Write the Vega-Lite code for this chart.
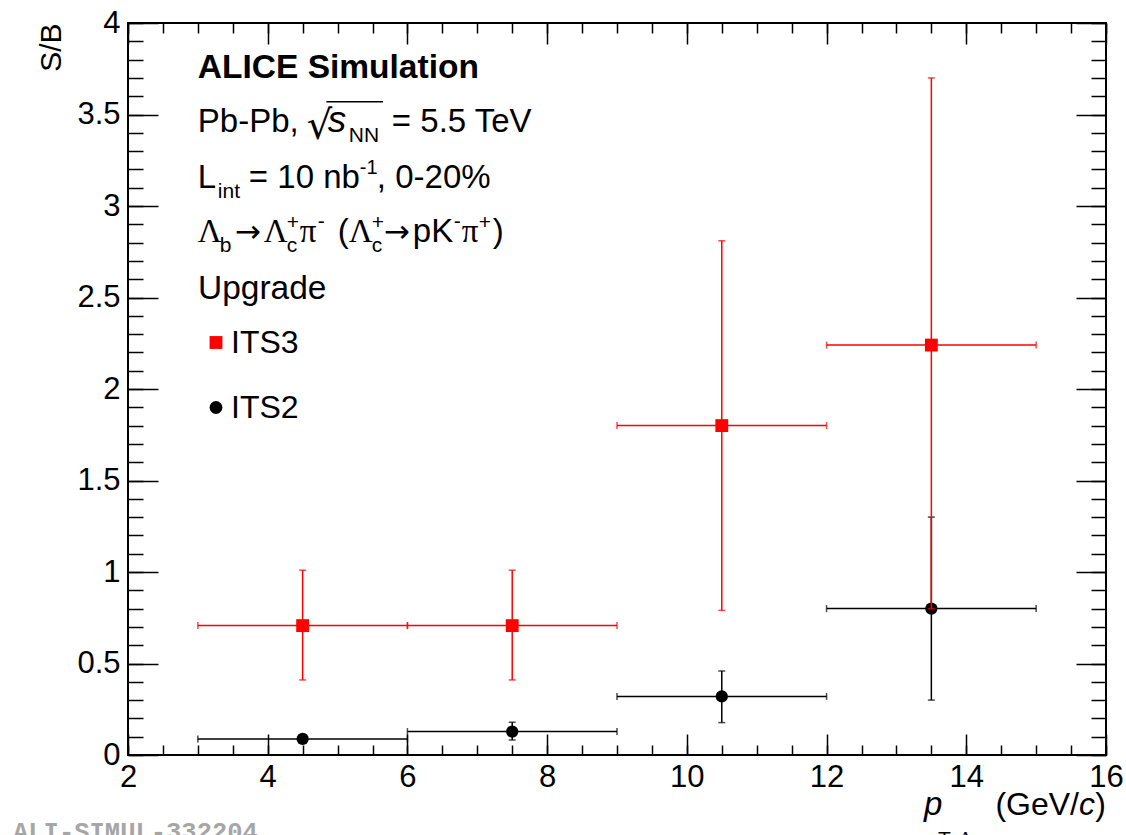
{
  "$schema": "https://vega.github.io/schema/vega-lite/v6.json",
  "width": 978,
  "height": 732,
  "autosize": {"type": "none"},
  "padding": {"left": 128, "top": 23, "right": 20, "bottom": 80},
  "background": "white",
  "datasets": {
    "its2": [
      {"series": "ITS2", "pt": 4.5, "pt_lo": 3, "pt_hi": 6, "sb": 0.088, "sb_lo": 0.075, "sb_hi": 0.1},
      {"series": "ITS2", "pt": 7.5, "pt_lo": 6, "pt_hi": 9, "sb": 0.128, "sb_lo": 0.082, "sb_hi": 0.179},
      {"series": "ITS2", "pt": 10.5, "pt_lo": 9, "pt_hi": 12, "sb": 0.32, "sb_lo": 0.177, "sb_hi": 0.459},
      {"series": "ITS2", "pt": 13.5, "pt_lo": 12, "pt_hi": 15, "sb": 0.8, "sb_lo": 0.3, "sb_hi": 1.3}
    ],
    "its3": [
      {"series": "ITS3", "pt": 4.5, "pt_lo": 3, "pt_hi": 6, "sb": 0.707, "sb_lo": 0.41, "sb_hi": 1.01},
      {"series": "ITS3", "pt": 7.5, "pt_lo": 6, "pt_hi": 9, "sb": 0.707, "sb_lo": 0.41, "sb_hi": 1.01},
      {"series": "ITS3", "pt": 10.5, "pt_lo": 9, "pt_hi": 12, "sb": 1.8, "sb_lo": 0.79, "sb_hi": 2.81},
      {"series": "ITS3", "pt": 13.5, "pt_lo": 12, "pt_hi": 15, "sb": 2.24, "sb_lo": 0.8, "sb_hi": 3.7}
    ]
  },
  "data": {"values": [{}]},
  "resolve": {"axis": {"x": "independent", "y": "independent"}},
  "layer": [
    {
      "data": {"name": "its2"},
      "mark": {"type": "rule", "color": "black", "strokeWidth": 1.5},
      "encoding": {
        "x": {"field": "pt_lo", "type": "quantitative", "scale": {"domain": [2, 16], "nice": false, "zero": false},
          "axis": {"orient": "bottom", "values": [2, 4, 6, 8, 10, 12, 14, 16], "tickSize": -21, "labelPadding": 28, "labelFont": "Liberation Sans", "labelFontSize": 31, "format": "~g", "labelFlush": false, "labelOverlap": false, "title": null}},
        "x2": {"field": "pt_hi"},
        "y": {"field": "sb", "type": "quantitative", "scale": {"domain": [0, 4], "nice": false, "zero": false},
          "axis": {"orient": "left", "values": [0, 0.5, 1, 1.5, 2, 2.5, 3, 3.5, 4], "tickSize": -30, "labelPadding": 38, "labelFont": "Liberation Sans", "labelFontSize": 31, "format": "~g", "labelFlush": false, "labelOverlap": false,
            "title": "S/B", "titleFont": "Liberation Sans", "titleFontSize": 30, "titleFontWeight": "normal", "titleColor": "black", "titleAngle": -90, "titleAlign": "right", "titleBaseline": "middle", "titleX": -77, "titleY": 0}}
      }
    },
    {
      "data": {"name": "its2"},
      "mark": {"type": "rule", "color": "black", "strokeWidth": 1.5},
      "encoding": {
        "x": {"field": "pt", "type": "quantitative",
          "axis": {"orient": "bottom", "values": [2, 2.5, 3, 3.5, 4, 4.5, 5, 5.5, 6, 6.5, 7, 7.5, 8, 8.5, 9, 9.5, 10, 10.5, 11, 11.5, 12, 12.5, 13, 13.5, 14, 14.5, 15, 15.5, 16], "tickSize": -10, "labels": false, "title": null}},
        "y": {"field": "sb_lo", "type": "quantitative",
          "axis": {"orient": "left", "values": [0, 0.1, 0.2, 0.3, 0.4, 0.5, 0.6, 0.7, 0.8, 0.9, 1, 1.1, 1.2, 1.3, 1.4, 1.5, 1.6, 1.7, 1.8, 1.9, 2, 2.1, 2.2, 2.3, 2.4, 2.5, 2.6, 2.7, 2.8, 2.9, 3, 3.1, 3.2, 3.3, 3.4, 3.5, 3.6, 3.7, 3.8, 3.9, 4], "tickSize": -15, "labels": false, "title": null}},
        "y2": {"field": "sb_hi"}
      }
    },
    {
      "data": {"name": "its2"},
      "mark": {"type": "tick", "orient": "vertical", "color": "black", "size": 7, "thickness": 1.5},
      "encoding": {
        "x": {"field": "pt_lo", "type": "quantitative",
          "axis": {"orient": "top", "values": [2, 4, 6, 8, 10, 12, 14, 16], "tickSize": -21, "labels": false, "title": null}},
        "y": {"field": "sb", "type": "quantitative",
          "axis": {"orient": "right", "values": [0, 0.5, 1, 1.5, 2, 2.5, 3, 3.5, 4], "tickSize": -30, "labels": false, "title": null}}
      }
    },
    {
      "data": {"name": "its2"},
      "mark": {"type": "tick", "orient": "vertical", "color": "black", "size": 7, "thickness": 1.5},
      "encoding": {
        "x": {"field": "pt_hi", "type": "quantitative",
          "axis": {"orient": "top", "values": [2, 2.5, 3, 3.5, 4, 4.5, 5, 5.5, 6, 6.5, 7, 7.5, 8, 8.5, 9, 9.5, 10, 10.5, 11, 11.5, 12, 12.5, 13, 13.5, 14, 14.5, 15, 15.5, 16], "tickSize": -10, "labels": false, "title": null}},
        "y": {"field": "sb", "type": "quantitative",
          "axis": {"orient": "right", "values": [0, 0.1, 0.2, 0.3, 0.4, 0.5, 0.6, 0.7, 0.8, 0.9, 1, 1.1, 1.2, 1.3, 1.4, 1.5, 1.6, 1.7, 1.8, 1.9, 2, 2.1, 2.2, 2.3, 2.4, 2.5, 2.6, 2.7, 2.8, 2.9, 3, 3.1, 3.2, 3.3, 3.4, 3.5, 3.6, 3.7, 3.8, 3.9, 4], "tickSize": -15, "labels": false, "title": null}}
      }
    },
    {
      "data": {"name": "its2"},
      "mark": {"type": "tick", "orient": "horizontal", "color": "black", "size": 7, "thickness": 1.5},
      "encoding": {
        "x": {"field": "pt", "type": "quantitative", "axis": null},
        "y": {"field": "sb_lo", "type": "quantitative", "axis": null}
      }
    },
    {
      "data": {"name": "its2"},
      "mark": {"type": "tick", "orient": "horizontal", "color": "black", "size": 7, "thickness": 1.5},
      "encoding": {
        "x": {"field": "pt", "type": "quantitative", "axis": null},
        "y": {"field": "sb_hi", "type": "quantitative", "axis": null}
      }
    },
    {
      "data": {"name": "its2"},
      "mark": {"type": "point", "filled": true, "opacity": 1, "size": 150, "strokeWidth": 0},
      "encoding": {
        "x": {"field": "pt", "type": "quantitative", "axis": null},
        "y": {"field": "sb", "type": "quantitative", "axis": null},
        "color": {"field": "series", "type": "nominal", "scale": {"domain": ["ITS3", "ITS2"], "range": ["#ff0000", "#000000"]},
          "legend": {"title": "Upgrade", "orient": "none", "legendX": 70, "legendY": 250, "padding": 0, "titleFont": "Liberation Sans", "titleFontSize": 33.5, "titleFontWeight": "normal", "titleColor": "black", "titlePadding": 20, "labelFont": "Liberation Sans", "labelFontSize": 32, "labelColor": "black", "labelOffset": -1, "symbolOffset": 2, "rowPadding": 33, "symbolSize": 165, "symbolStrokeWidth": 0, "symbolOpacity": 1}},
        "shape": {"field": "series", "type": "nominal", "scale": {"domain": ["ITS3", "ITS2"], "range": ["square", "circle"]},
          "legend": {"title": "Upgrade", "orient": "none", "legendX": 70, "legendY": 250, "padding": 0, "titleFont": "Liberation Sans", "titleFontSize": 33.5, "titleFontWeight": "normal", "titleColor": "black", "titlePadding": 20, "labelFont": "Liberation Sans", "labelFontSize": 32, "labelColor": "black", "labelOffset": -1, "symbolOffset": 2, "rowPadding": 33, "symbolSize": 165, "symbolStrokeWidth": 0, "symbolOpacity": 1}}
      }
    },
    {
      "data": {"name": "its3"},
      "mark": {"type": "rule", "color": "#ff0000", "strokeWidth": 1.5},
      "encoding": {
        "x": {"field": "pt_lo", "type": "quantitative", "axis": null},
        "x2": {"field": "pt_hi"},
        "y": {"field": "sb", "type": "quantitative", "axis": null}
      }
    },
    {
      "data": {"name": "its3"},
      "mark": {"type": "rule", "color": "#ff0000", "strokeWidth": 1.5},
      "encoding": {
        "x": {"field": "pt", "type": "quantitative", "axis": null},
        "y": {"field": "sb_lo", "type": "quantitative", "axis": null},
        "y2": {"field": "sb_hi"}
      }
    },
    {
      "data": {"name": "its3"},
      "mark": {"type": "tick", "orient": "vertical", "color": "#ff0000", "size": 7, "thickness": 1.5},
      "encoding": {
        "x": {"field": "pt_lo", "type": "quantitative", "axis": null},
        "y": {"field": "sb", "type": "quantitative", "axis": null}
      }
    },
    {
      "data": {"name": "its3"},
      "mark": {"type": "tick", "orient": "vertical", "color": "#ff0000", "size": 7, "thickness": 1.5},
      "encoding": {
        "x": {"field": "pt_hi", "type": "quantitative", "axis": null},
        "y": {"field": "sb", "type": "quantitative", "axis": null}
      }
    },
    {
      "data": {"name": "its3"},
      "mark": {"type": "tick", "orient": "horizontal", "color": "#ff0000", "size": 7, "thickness": 1.5},
      "encoding": {
        "x": {"field": "pt", "type": "quantitative", "axis": null},
        "y": {"field": "sb_lo", "type": "quantitative", "axis": null}
      }
    },
    {
      "data": {"name": "its3"},
      "mark": {"type": "tick", "orient": "horizontal", "color": "#ff0000", "size": 7, "thickness": 1.5},
      "encoding": {
        "x": {"field": "pt", "type": "quantitative", "axis": null},
        "y": {"field": "sb_hi", "type": "quantitative", "axis": null}
      }
    },
    {
      "data": {"name": "its3"},
      "mark": {"type": "point", "filled": true, "opacity": 1, "size": 165, "strokeWidth": 0},
      "encoding": {
        "x": {"field": "pt", "type": "quantitative", "axis": null},
        "y": {"field": "sb", "type": "quantitative", "axis": null},
        "color": {"field": "series", "type": "nominal", "scale": {"domain": ["ITS3", "ITS2"], "range": ["#ff0000", "#000000"]},
          "legend": {"title": "Upgrade", "orient": "none", "legendX": 70, "legendY": 250, "padding": 0, "titleFont": "Liberation Sans", "titleFontSize": 33.5, "titleFontWeight": "normal", "titleColor": "black", "titlePadding": 20, "labelFont": "Liberation Sans", "labelFontSize": 32, "labelColor": "black", "labelOffset": -1, "symbolOffset": 2, "rowPadding": 33, "symbolSize": 165, "symbolStrokeWidth": 0, "symbolOpacity": 1}},
        "shape": {"field": "series", "type": "nominal", "scale": {"domain": ["ITS3", "ITS2"], "range": ["square", "circle"]},
          "legend": {"title": "Upgrade", "orient": "none", "legendX": 70, "legendY": 250, "padding": 0, "titleFont": "Liberation Sans", "titleFontSize": 33.5, "titleFontWeight": "normal", "titleColor": "black", "titlePadding": 20, "labelFont": "Liberation Sans", "labelFontSize": 32, "labelColor": "black", "labelOffset": -1, "symbolOffset": 2, "rowPadding": 33, "symbolSize": 165, "symbolStrokeWidth": 0, "symbolOpacity": 1}}
      }
    },

    {"mark": {"type": "text", "text": "ALICE Simulation", "font": "Liberation Sans", "fontWeight": "bold", "fontSize": 33.5, "align": "left", "baseline": "alphabetic", "color": "black"},
      "encoding": {"x": {"datum": 3, "axis": null}, "y": {"datum": 3.7, "axis": null}}},

    {"mark": {"type": "text", "text": "Pb-Pb,", "font": "Liberation Sans", "fontSize": 33, "align": "left", "baseline": "alphabetic", "color": "black", "dx": 0},
      "encoding": {"x": {"datum": 3, "axis": null}, "y": {"datum": 3.405, "axis": null}}},
    {"mark": {"type": "text", "text": "√", "font": "DejaVu Sans", "fontSize": 40, "align": "left", "baseline": "alphabetic", "color": "black", "dx": 109, "dy": 7},
      "encoding": {"x": {"datum": 3, "axis": null}, "y": {"datum": 3.405, "axis": null}}},
    {"mark": {"type": "text", "text": "s", "font": "Liberation Sans", "fontStyle": "italic", "fontSize": 37, "align": "left", "baseline": "alphabetic", "color": "black", "dx": 130},
      "encoding": {"x": {"datum": 3, "axis": null}, "y": {"datum": 3.405, "axis": null}}},
    {"mark": {"type": "text", "text": "NN", "font": "Liberation Sans", "fontSize": 21, "align": "left", "baseline": "alphabetic", "color": "black", "dx": 151, "dy": 10},
      "encoding": {"x": {"datum": 3, "axis": null}, "y": {"datum": 3.405, "axis": null}}},
    {"mark": {"type": "text", "text": "= 5.5 TeV", "font": "Liberation Sans", "fontSize": 33, "align": "left", "baseline": "alphabetic", "color": "black", "dx": 194},
      "encoding": {"x": {"datum": 3, "axis": null}, "y": {"datum": 3.405, "axis": null}}},
    {"mark": {"type": "rule", "color": "black", "strokeWidth": 1.5},
      "encoding": {"x": {"datum": 4.84, "axis": null}, "x2": {"datum": 5.65}, "y": {"datum": 3.57, "axis": null}}},

    {"mark": {"type": "text", "text": "L", "font": "Liberation Sans", "fontSize": 33, "align": "left", "baseline": "alphabetic", "color": "black", "dx": 0},
      "encoding": {"x": {"datum": 3, "axis": null}, "y": {"datum": 3.097, "axis": null}}},
    {"mark": {"type": "text", "text": "int", "font": "Liberation Sans", "fontSize": 21, "align": "left", "baseline": "alphabetic", "color": "black", "dx": 20, "dy": 10},
      "encoding": {"x": {"datum": 3, "axis": null}, "y": {"datum": 3.097, "axis": null}}},
    {"mark": {"type": "text", "text": "= 10 nb", "font": "Liberation Sans", "fontSize": 33, "align": "left", "baseline": "alphabetic", "color": "black", "dx": 51},
      "encoding": {"x": {"datum": 3, "axis": null}, "y": {"datum": 3.097, "axis": null}}},
    {"mark": {"type": "text", "text": "-1", "font": "Liberation Sans", "fontSize": 20, "align": "left", "baseline": "alphabetic", "color": "black", "dx": 162, "dy": -14},
      "encoding": {"x": {"datum": 3, "axis": null}, "y": {"datum": 3.097, "axis": null}}},
    {"mark": {"type": "text", "text": ", 0-20%", "font": "Liberation Sans", "fontSize": 33, "align": "left", "baseline": "alphabetic", "color": "black", "dx": 179},
      "encoding": {"x": {"datum": 3, "axis": null}, "y": {"datum": 3.097, "axis": null}}},

    {"mark": {"type": "text", "text": "Λ", "font": "Liberation Serif", "fontSize": 33, "align": "left", "baseline": "alphabetic", "color": "black", "dx": 0},
      "encoding": {"x": {"datum": 3, "axis": null}, "y": {"datum": 2.805, "axis": null}}},
    {"mark": {"type": "text", "text": "b", "font": "Liberation Sans", "fontSize": 21, "align": "left", "baseline": "alphabetic", "color": "black", "dx": 22, "dy": 10},
      "encoding": {"x": {"datum": 3, "axis": null}, "y": {"datum": 2.805, "axis": null}}},
    {"mark": {"type": "text", "text": "→", "font": "DejaVu Sans", "fontSize": 31, "align": "left", "baseline": "alphabetic", "color": "black", "dx": 37},
      "encoding": {"x": {"datum": 3, "axis": null}, "y": {"datum": 2.805, "axis": null}}},
    {"mark": {"type": "text", "text": "Λ", "font": "Liberation Serif", "fontSize": 33, "align": "left", "baseline": "alphabetic", "color": "black", "dx": 66},
      "encoding": {"x": {"datum": 3, "axis": null}, "y": {"datum": 2.805, "axis": null}}},
    {"mark": {"type": "text", "text": "+", "font": "Liberation Sans", "fontSize": 21, "align": "left", "baseline": "alphabetic", "color": "black", "dx": 89, "dy": -13},
      "encoding": {"x": {"datum": 3, "axis": null}, "y": {"datum": 2.805, "axis": null}}},
    {"mark": {"type": "text", "text": "c", "font": "Liberation Sans", "fontSize": 21, "align": "left", "baseline": "alphabetic", "color": "black", "dx": 89, "dy": 10},
      "encoding": {"x": {"datum": 3, "axis": null}, "y": {"datum": 2.805, "axis": null}}},
    {"mark": {"type": "text", "text": "π", "font": "Liberation Serif", "fontSize": 33, "align": "left", "baseline": "alphabetic", "color": "black", "dx": 102},
      "encoding": {"x": {"datum": 3, "axis": null}, "y": {"datum": 2.805, "axis": null}}},
    {"mark": {"type": "text", "text": "-", "font": "Liberation Sans", "fontSize": 21, "align": "left", "baseline": "alphabetic", "color": "black", "dx": 120, "dy": -14},
      "encoding": {"x": {"datum": 3, "axis": null}, "y": {"datum": 2.805, "axis": null}}},
    {"mark": {"type": "text", "text": "(", "font": "Liberation Sans", "fontSize": 33, "align": "left", "baseline": "alphabetic", "color": "black", "dx": 140},
      "encoding": {"x": {"datum": 3, "axis": null}, "y": {"datum": 2.805, "axis": null}}},
    {"mark": {"type": "text", "text": "Λ", "font": "Liberation Serif", "fontSize": 33, "align": "left", "baseline": "alphabetic", "color": "black", "dx": 151},
      "encoding": {"x": {"datum": 3, "axis": null}, "y": {"datum": 2.805, "axis": null}}},
    {"mark": {"type": "text", "text": "+", "font": "Liberation Sans", "fontSize": 21, "align": "left", "baseline": "alphabetic", "color": "black", "dx": 174, "dy": -13},
      "encoding": {"x": {"datum": 3, "axis": null}, "y": {"datum": 2.805, "axis": null}}},
    {"mark": {"type": "text", "text": "c", "font": "Liberation Sans", "fontSize": 21, "align": "left", "baseline": "alphabetic", "color": "black", "dx": 174, "dy": 10},
      "encoding": {"x": {"datum": 3, "axis": null}, "y": {"datum": 2.805, "axis": null}}},
    {"mark": {"type": "text", "text": "→", "font": "DejaVu Sans", "fontSize": 31, "align": "left", "baseline": "alphabetic", "color": "black", "dx": 186},
      "encoding": {"x": {"datum": 3, "axis": null}, "y": {"datum": 2.805, "axis": null}}},
    {"mark": {"type": "text", "text": "pK", "font": "Liberation Sans", "fontSize": 33, "align": "left", "baseline": "alphabetic", "color": "black", "dx": 215},
      "encoding": {"x": {"datum": 3, "axis": null}, "y": {"datum": 2.805, "axis": null}}},
    {"mark": {"type": "text", "text": "-", "font": "Liberation Sans", "fontSize": 21, "align": "left", "baseline": "alphabetic", "color": "black", "dx": 256, "dy": -14},
      "encoding": {"x": {"datum": 3, "axis": null}, "y": {"datum": 2.805, "axis": null}}},
    {"mark": {"type": "text", "text": "π", "font": "Liberation Serif", "fontSize": 33, "align": "left", "baseline": "alphabetic", "color": "black", "dx": 264},
      "encoding": {"x": {"datum": 3, "axis": null}, "y": {"datum": 2.805, "axis": null}}},
    {"mark": {"type": "text", "text": "+", "font": "Liberation Sans", "fontSize": 21, "align": "left", "baseline": "alphabetic", "color": "black", "dx": 281, "dy": -13},
      "encoding": {"x": {"datum": 3, "axis": null}, "y": {"datum": 2.805, "axis": null}}},
    {"mark": {"type": "text", "text": ")", "font": "Liberation Sans", "fontSize": 33, "align": "left", "baseline": "alphabetic", "color": "black", "dx": 295},
      "encoding": {"x": {"datum": 3, "axis": null}, "y": {"datum": 2.805, "axis": null}}},

    {"mark": {"type": "text", "text": ")", "font": "Liberation Sans", "fontSize": 32, "align": "right", "baseline": "alphabetic", "color": "black", "dx": 0},
      "encoding": {"x": {"datum": 16, "axis": null}, "y": {"datum": -0.328, "axis": null}}},
    {"mark": {"type": "text", "text": "c", "font": "Liberation Sans", "fontStyle": "italic", "fontSize": 32, "align": "right", "baseline": "alphabetic", "color": "black", "dx": -11},
      "encoding": {"x": {"datum": 16, "axis": null}, "y": {"datum": -0.328, "axis": null}}},
    {"mark": {"type": "text", "text": "(GeV/", "font": "Liberation Sans", "fontSize": 32, "align": "right", "baseline": "alphabetic", "color": "black", "dx": -27},
      "encoding": {"x": {"datum": 16, "axis": null}, "y": {"datum": -0.328, "axis": null}}},
    {"mark": {"type": "text", "text": "p", "font": "Liberation Sans", "fontStyle": "italic", "fontSize": 33, "align": "left", "baseline": "alphabetic", "color": "black", "dx": -182},
      "encoding": {"x": {"datum": 16, "axis": null}, "y": {"datum": -0.328, "axis": null}}},
    {"mark": {"type": "text", "text": "T,", "font": "Liberation Sans", "fontSize": 21, "align": "left", "baseline": "alphabetic", "color": "black", "dx": -168, "dy": 31},
      "encoding": {"x": {"datum": 16, "axis": null}, "y": {"datum": -0.328, "axis": null}}},
    {"mark": {"type": "text", "text": "Λ", "font": "Liberation Serif", "fontSize": 21, "align": "left", "baseline": "alphabetic", "color": "black", "dx": -148, "dy": 31},
      "encoding": {"x": {"datum": 16, "axis": null}, "y": {"datum": -0.328, "axis": null}}},
    {"mark": {"type": "text", "text": "b", "font": "Liberation Sans", "fontSize": 15, "align": "left", "baseline": "alphabetic", "color": "black", "dx": -128, "dy": 35},
      "encoding": {"x": {"datum": 16, "axis": null}, "y": {"datum": -0.328, "axis": null}}},

    {"mark": {"type": "text", "text": "ALI-SIMUL-332204", "font": "Liberation Mono", "fontWeight": "bold", "fontSize": 25.5, "align": "left", "baseline": "alphabetic", "color": "#a6a6a6"},
      "encoding": {"x": {"datum": 0.354, "axis": null}, "y": {"datum": -0.464, "axis": null}}}
  ],
  "config": {
    "view": {"stroke": "black", "strokeWidth": 2},
    "axis": {"domain": false, "grid": false, "tickColor": "black", "tickWidth": 1.5, "labelColor": "black", "offset": 0}
  }
}
